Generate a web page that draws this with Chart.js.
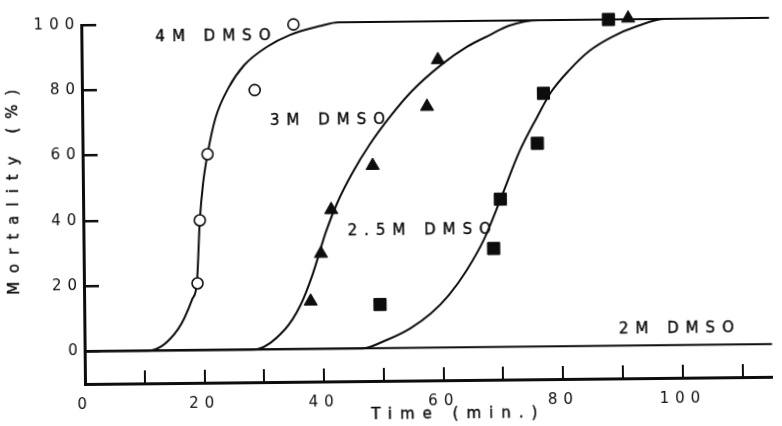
<!DOCTYPE html>
<html>
<head>
<meta charset="utf-8">
<script src="https://cdn.jsdelivr.net/npm/chart.js@4.4.1/dist/chart.umd.min.js"></script>
<style>
  html, body { margin: 0; padding: 0; background: #ffffff; overflow: hidden; }
  #c { display: block; transform: rotate(-0.6deg); transform-origin: 85px 384px; }
</style>
</head>
<body>
<canvas id="c" width="782" height="426"></canvas>
<script>
// ---- tick values / labels ----
const xTicks = [0, 10, 20, 30, 40, 50, 60, 70, 80, 90, 100, 110];
const xTickLabels = ['0', '', '20', '', '40', '', '60', '', '80', '', '100', ''];
const yTicks = [0, 20, 40, 60, 80, 100];
const yTickLabels = ['0', '20', '40', '60', '80', '100'];

// ---- series names ----
const curveNames = ['4M DMSO', '3M DMSO', '2.5M DMSO', '2M DMSO'];

// ---- observed points (time in min, mortality %) ----
const obs4M_x = [19.0, 19.5, 20.9, 28.9, 35.5];
const obs4M_y = [20.5, 39.8, 60, 79.5, 99.5];
const obs3M_x = [37.9, 39.7, 41.5, 48.5, 57.7, 59.6, 91.5];
const obs3M_y = [14.6, 29.2, 42.6, 56, 73.9, 88.2, 100.3];
const obs25M_x = [49.5, 68.6, 69.8, 76.1, 77.2, 88.2];
const obs25M_y = [13.4, 30.2, 45.3, 62.3, 77.6, 100];

// ---- fitted curves ----
const fit4M_x = [0, 10.6, 15.7, 18.1, 18.9, 19.5, 20.1, 20.9, 22.3, 24.5, 27.2, 31.1, 34.9, 39.9, 43.0, 115];
const fit4M_y = [0, 0, 6.6, 15.7, 20.7, 39.9, 51, 60, 71.1, 80.2, 87.2, 92.8, 96.3, 98.9, 100, 100];
const fit3M_x = [0, 28.3, 33.5, 36.2, 38.3, 40.6, 42.6, 45.0, 48.1, 51.4, 55.2, 60.2, 64.6, 68.4, 71.5, 76.5, 115];
const fit3M_y = [0, 0, 6, 13.5, 23, 36, 45, 53.5, 62.6, 70.7, 78.7, 86.7, 92.2, 95.7, 98.4, 100, 100];
const fit25M_x = [0, 46.4, 50.5, 54.5, 58.0, 61.0, 64.0, 67.0, 70.0, 73.0, 76.0, 78.5, 81.5, 85.0, 88.8, 93.2, 97.6, 115];
const fit25M_y = [0, 0, 2.5, 6, 10.5, 16, 23.5, 33, 46, 59.5, 70, 78, 84.5, 90.5, 94.7, 98, 100, 100];
const fit2M_x = [0, 115];
const fit2M_y = [0, 0];

const INK = '#0d0d0d';
const FONT = '"DejaVu Sans", "Liberation Sans", sans-serif';

function pts(xs, ys) { return xs.map((v, i) => ({ x: v, y: ys[i] })); }

function curve(xs, ys) {
  return {
    type: 'line', data: pts(xs, ys), borderColor: INK, borderWidth: 2,
    pointRadius: 0, fill: false, cubicInterpolationMode: 'monotone', clip: false, order: 2
  };
}

const spacingPlugin = {
  id: 'spacing',
  beforeUpdate(chart) { chart.ctx.letterSpacing = '6px'; },
  beforeLayout(chart) { chart.ctx.letterSpacing = '6px'; },
  beforeDraw(chart) { chart.ctx.letterSpacing = '6px'; }
};

const textPlugin = {
  id: 'texts',
  afterDatasetsDraw(chart) {
    const { ctx, scales } = chart;
    const sx = scales.x, sy = scales.y;
    const anchors = [[12.4, 96], [31.4, 70], [44.2, 36], [89.4, 5]];
    ctx.save();
    ctx.fillStyle = INK;
    ctx.strokeStyle = INK;
    ctx.lineWidth = 0.4;
    ctx.font = '15px ' + FONT;
    ctx.letterSpacing = '7px';
    ctx.textAlign = 'left';
    ctx.textBaseline = 'middle';
    curveNames.forEach((t, i) => {
      const px = sx.getPixelForValue(anchors[i][0]), py = sy.getPixelForValue(anchors[i][1]);
      ctx.fillText(t, px, py);
      ctx.strokeText(t, px, py);
    });
    // axis titles
    ctx.letterSpacing = '8px';
    ctx.textAlign = 'center';
    ctx.fillText('Time (min.)', 458, 418);
    ctx.strokeText('Time (min.)', 458, 418);
    ctx.translate(16, 187);
    ctx.rotate(-Math.PI / 2);
    ctx.letterSpacing = '9px';
    ctx.fillText('Mortality (%)', 0, 0);
    ctx.strokeText('Mortality (%)', 0, 0);
    ctx.restore();
  }
};

new Chart(document.getElementById('c'), {
  type: 'line',
  data: {
    datasets: [
      curve(fit4M_x, fit4M_y),
      curve(fit3M_x, fit3M_y),
      curve(fit25M_x, fit25M_y),
      curve(fit2M_x, fit2M_y),
      { type: 'scatter', data: pts(obs4M_x, obs4M_y), pointStyle: 'circle', pointRadius: 5.5,
        backgroundColor: '#ffffff', borderColor: INK, borderWidth: 1.6, clip: false, order: 1 },
      { type: 'scatter', data: pts(obs3M_x, obs3M_y), pointStyle: 'triangle', pointRadius: 7.6,
        backgroundColor: INK, borderColor: INK, borderWidth: 1, clip: false, order: 1 },
      { type: 'scatter', data: pts(obs25M_x, obs25M_y), pointStyle: 'rect', pointRadius: 8.6,
        backgroundColor: INK, borderColor: INK, borderWidth: 1, clip: false, order: 1 }
    ]
  },
  options: {
    responsive: false,
    animation: false,
    devicePixelRatio: 1,
    layout: { padding: { top: 21, right: 0, bottom: 0, left: 0 } },
    plugins: { legend: { display: false }, tooltip: { enabled: false } },
    scales: {
      x: {
        type: 'linear', position: 'bottom', min: 0, max: 115,
        afterBuildTicks: s => { s.ticks = xTicks.map(v => ({ value: v })); },
        afterFit: s => { s.height = 42; },
        ticks: {
          callback: v => xTickLabels[xTicks.indexOf(v)],
          font: { family: FONT, size: 15 }, color: INK, padding: 25,
          maxRotation: 0, autoSkip: false
        },
        grid: { drawOnChartArea: false, drawTicks: true, tickLength: -13, lineWidth: 2, color: INK },
        border: { display: true, width: 3, color: INK }
      },
      y: {
        type: 'linear', position: 'left', min: -10, max: 100,
        afterBuildTicks: s => { s.ticks = yTicks.map(v => ({ value: v })); },
        afterFit: s => { s.width = 85; },
        ticks: {
          callback: v => yTickLabels[yTicks.indexOf(v)],
          font: { family: FONT, size: 15 }, color: INK, padding: 16, autoSkip: false
        },
        grid: { drawOnChartArea: false, drawTicks: true, tickLength: -15, lineWidth: 2.5, color: INK },
        border: { display: true, width: 3, color: INK }
      }
    }
  },
  plugins: [spacingPlugin, textPlugin]
});
</script>
</body>
</html>
